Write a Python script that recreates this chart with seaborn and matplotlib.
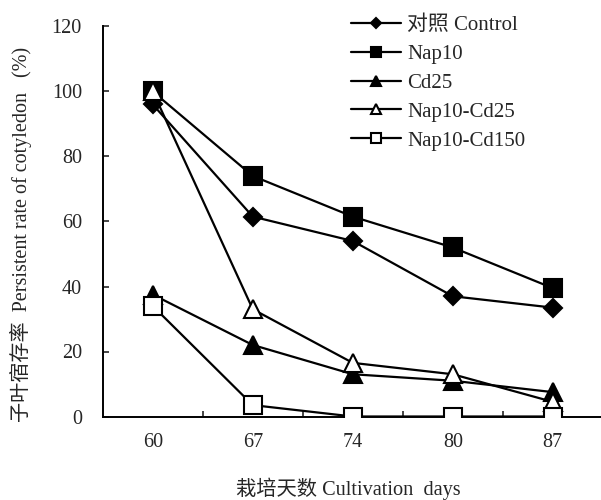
import matplotlib
matplotlib.use("Agg")
import matplotlib.pyplot as plt
import seaborn as sns
import pandas as pd

# Data
days = ["60", "67", "74", "80", "87"]
control = [96, 61.5, 54, 37, 33.5]
nap10 = [100, 74, 61.5, 52, 39.5]
cd25 = [37.5, 22, 13, 11, 7.5]
nap10_cd25 = [100, 33, 16.5, 13, 4.5]
nap10_cd150 = [34, 3.5, 0, 0, 0]

series = ["对照 Control", "Nap10", "Cd25", "Nap10-Cd25", "Nap10-Cd150"]
values = [control, nap10, cd25, nap10_cd25, nap10_cd150]

rows = []
for name, vals in zip(series, values):
    for i, v in enumerate(vals):
        rows.append({"pos": i, "rate": v, "group": name})
df = pd.DataFrame(rows)

sns.set_style("white")
plt.rcParams['font.family'] = ['Liberation Serif', 'Noto Sans CJK SC', 'DejaVu Sans']
plt.rcParams['xtick.direction'] = 'in'
plt.rcParams['ytick.direction'] = 'in'

# marker styles: (marker, facecolor, size)
styles = {
    "对照 Control": ("D", "black", 9.5),
    "Nap10": ("s", "black", 13),
    "Cd25": ("^", "black", 13),
    "Nap10-Cd25": ("^", "white", 13),
    "Nap10-Cd150": ("s", "white", 12.5),
}

fig = plt.figure(figsize=(6.01, 5.0), dpi=100)
ax = fig.add_axes([0.171, 0.167, 0.832, 0.78])

for name in series:
    m, fc, ms = styles[name]
    sns.lineplot(data=df[df["group"] == name], x="pos", y="rate", ax=ax,
                 color="black", linewidth=1.6, marker=m, markersize=ms,
                 markerfacecolor=fc, markeredgecolor="black", markeredgewidth=1.5,
                 label=name, zorder=3)

ax.set_xlim(-0.5, 4.5)
ax.set_ylim(0, 120)
ax.set_yticks([0, 20, 40, 60, 80, 100, 120])
ax.set_xticks(range(len(days)))
ax.set_xticklabels(days)
ax.set_xticks([0.5, 1.5, 2.5, 3.5, 4.5], minor=True)
ax.tick_params(axis="x", which="major", length=0, pad=12, labelsize=14.5)
ax.tick_params(axis="x", which="minor", direction="in", length=4.5, width=1.2, bottom=True)
ax.tick_params(axis="y", which="major", direction="in", length=4.5, width=1.2, left=True,
               pad=15, labelsize=14.5)

for side in ["top", "right"]:
    ax.spines[side].set_visible(False)
for side in ["left", "bottom"]:
    ax.spines[side].set_color("black")
    ax.spines[side].set_linewidth(1.4)

ax.set_xlabel("栽培天数 Cultivation  days", fontsize=14.6)
ax.xaxis.set_label_coords(0.492, -0.157)
ax.set_ylabel("子叶宿存率  Persistent rate of cotyledon   (%)", fontsize=14.5)
ax.yaxis.set_label_coords(-0.142, 0.467)

leg = ax.legend(loc="upper left", bbox_to_anchor=(0.48, 1.05), frameon=False,
                fontsize=15, markerscale=0.55, handlelength=2.4,
                handletextpad=0.3, labelspacing=0.45, borderaxespad=0)

fig.savefig("out.png", dpi=100)
